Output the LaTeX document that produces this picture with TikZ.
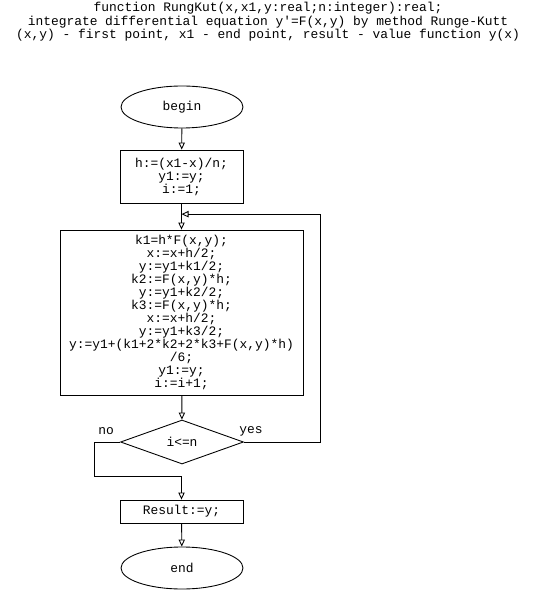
\documentclass[tikz,border=0pt]{standalone}
\usepackage{fontspec}
\setmonofont{Liberation Mono}
\usepackage{tikz}
\usetikzlibrary{
    shapes.geometric,
    arrows.meta,
    calc
}
\tikzset{
    fterm/.style={
        ellipse, draw=black, line width=0.5pt, fill=white,
        minimum width=2.44cm, minimum height=0.84cm, inner sep=0pt,
        font=\fontsize{7.35}{7.4}\selectfont\ttfamily
    },
    fproc/.style={
        rectangle, draw=black, line width=0.5pt, fill=white,
        minimum width=2.46cm, align=center, inner sep=1pt,
        font=\fontsize{7.35}{7.4}\selectfont\ttfamily
    },
    fcond/.style={
        diamond, draw=black, line width=0.5pt, fill=white,
        minimum width=2.46cm, minimum height=0.88cm, inner sep=0pt,
        font=\fontsize{7.35}{7.4}\selectfont\ttfamily
    },
    flbl/.style={font=\fontsize{7.35}{7.7}\selectfont\ttfamily, inner sep=0pt},
    farr/.style={-{Triangle[open, length=4pt, width=3.6pt]}, line width=0.5pt, black},
}

\begin{document}
\begin{tikzpicture}[x=0.02cm, y=-0.02cm]
    \useasboundingbox (0,0) rectangle (536,590);

    \node [flbl, align=center]
        (title) at (268,22) {function RungKut(x,x1,y:real;n:integer):real;\\
        integrate differential equation y'=F(x,y) by method Runge-Kutt\\
        (x,y) - first point, x1 - end point, result - value function y(x)};

    \node [fterm] (start) at (182,107) {begin};
    \node [fproc, minimum height=1.06cm] (init) at (181.5,176.5)
        {h:=(x1-x)/n;\\ y1:=y;\\ i:=1;};
    \node [fproc, minimum width=4.86cm, minimum height=3.3cm] (body) at (181.5,312.5)
        {k1=h*F(x,y);\\ x:=x+h/2;\\ y:=y1+k1/2;\\ k2:=F(x,y)*h;\\
        y:=y1+k2/2;\\ k3:=F(x,y)*h;\\ x:=x+h/2;\\ y:=y1+k3/2;\\
        y:=y1+(k1+2*k2+2*k3+F(x,y)*h)\\ /6;\\ y1:=y;\\ i:=i+1;};
    \node [fcond] (cond) at (182,442) {i<=n};
    \node [fproc, minimum height=0.46cm] (res) at (181.5,511.5) {Result:=y;};
    \node [fterm] (stop) at (182,568) {end};

    \node [flbl] (yes) at (251,431) {yes};
    \node [flbl] (no) at (106,431) {no};

    \coordinate (loopin) at ($(init.south)!0.41!(body.north)$);

    \draw [farr] (start) -- (init);
    \draw [farr] (init) -- (body);
    \draw [farr] (body) -- (cond);
    \draw [farr] (cond.east) -- ++(77,0) |- (loopin);
    \draw [farr] (cond.west) -- ++(-26,0) -- ++(0,34) -| (res.north);
    \draw [farr] (res) -- (stop);

\end{tikzpicture}
\end{document}
